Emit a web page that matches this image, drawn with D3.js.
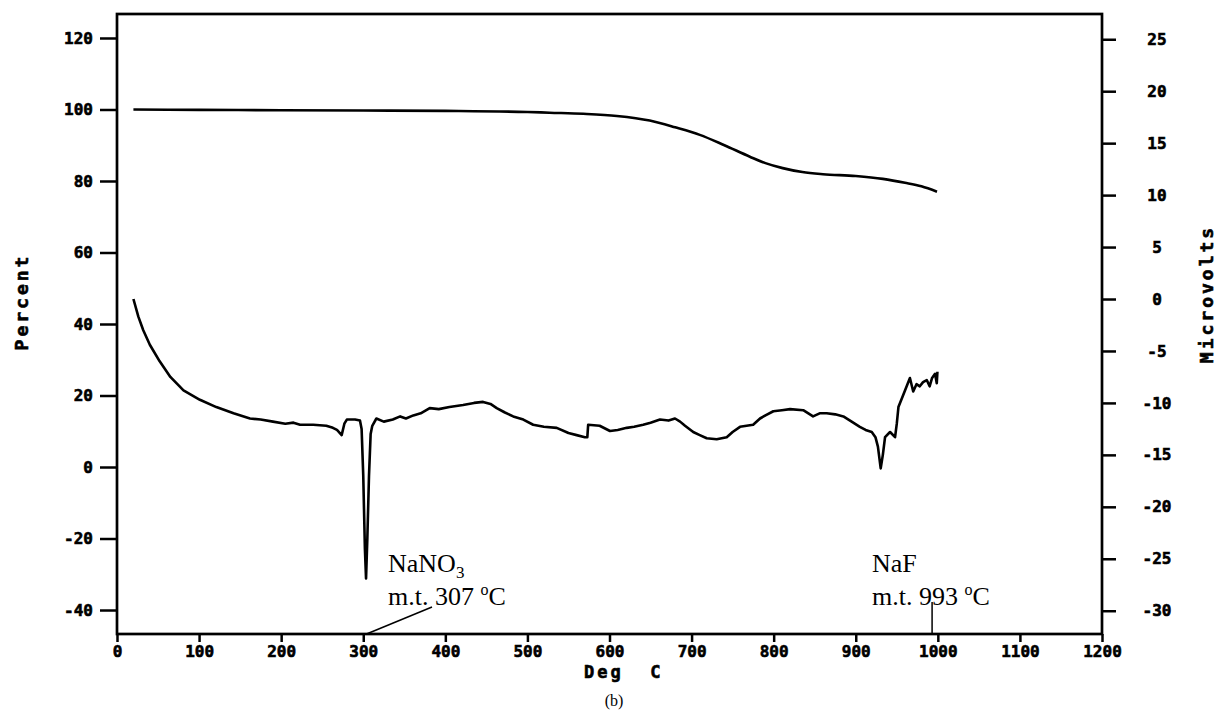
<!DOCTYPE html>
<html>
<head>
<meta charset="utf-8">
<script src="https://cdn.jsdelivr.net/npm/d3@7"></script>
<style>
  html, body { margin: 0; padding: 0; background: #fff; }
  svg { display: block; }
</style>
</head>
<body>
<svg id="chart" width="1218" height="717"></svg>
<script>
// ---------------- DATA ----------------
const xTicks = [0, 100, 200, 300, 400, 500, 600, 700, 800, 900, 1000, 1100, 1200];
const percentTicks = [-40, -20, 0, 20, 40, 60, 80, 100, 120];
const microvoltTicks = [-30, -25, -20, -15, -10, -5, 0, 5, 10, 15, 20, 25];

// TGA curve: temperature (deg C) and weight percent (left axis)
const tgaTemp    = [20, 100, 200, 300, 400, 500, 527, 568, 609, 649, 680, 710, 740, 771, 790, 811, 835, 860, 900, 933, 960, 980, 999];
const tgaPercent = [100, 99.9, 99.8, 99.7, 99.6, 99.3, 99.1, 98.8, 98.2, 96.9, 95.0, 92.9, 90.0, 86.8, 85.0, 83.6, 82.5, 81.9, 81.4, 80.6, 79.5, 78.5, 77.0];

// DTA curve: temperature (deg C) and microvolts (right axis)
const dtaTemp = [20, 26, 32, 40, 52, 65, 81, 101, 121, 142, 162, 175, 190, 205, 215, 223, 239, 255, 263, 268, 273.7, 277, 280, 290, 296,
  298, 300, 302, 303.4, 305, 307, 309, 311, 316, 325, 336, 345, 352, 361, 370, 381, 392, 405, 421.6, 435, 446, 455, 462.6, 472, 482.7, 495, 507, 520,
  535.7, 550, 560, 570, 573, 574, 588, 600.6, 610, 621, 630, 641, 650, 661.5, 672, 679.8, 686, 692, 702, 710, 718.4, 730.6, 742.8, 750, 759, 775,
  783.4, 790, 799.6, 810, 820, 836, 848, 856, 864.6, 875, 884.9, 895, 905, 912, 919.5, 924, 927, 930.4, 933, 935.7, 941.8, 947.9, 950, 952, 956,
  960, 966, 970, 974, 978, 982, 986.5, 990, 993, 996.6, 998.7, 999.5];
const dtaMicrovolts = [0, -1.7, -3.0, -4.4, -6.0, -7.5, -8.8, -9.7, -10.4, -11.0, -11.5, -11.6, -11.8, -12.0, -11.9, -12.1, -12.1, -12.2, -12.4, -12.6, -13.1, -12.0, -11.6, -11.6, -11.7,
  -12.5, -17, -24, -26.9, -23, -17, -13, -12.2, -11.5, -11.8, -11.6, -11.3, -11.5, -11.2, -11.0, -10.5, -10.6, -10.4, -10.2, -10.0, -9.9, -10.1, -10.5, -10.9, -11.3, -11.6, -12.1, -12.3,
  -12.4, -12.9, -13.1, -13.3, -13.3, -12.1, -12.2, -12.7, -12.6, -12.4, -12.3, -12.1, -11.9, -11.6, -11.7, -11.5, -11.8, -12.2, -12.8, -13.1, -13.4, -13.5, -13.3, -12.8, -12.3, -12.1,
  -11.5, -11.2, -10.8, -10.7, -10.6, -10.7, -11.3, -11.0, -11.0, -11.1, -11.3, -11.8, -12.3, -12.6, -12.8, -13.3, -14.2, -16.3, -15.0, -13.3, -12.8, -13.3, -12.0, -10.4, -9.6,
  -8.8, -7.6, -8.9, -8.2, -8.4, -8.0, -7.8, -8.4, -7.6, -7.2, -8.1, -7.0];

// ---------------- LAYOUT ----------------
const svg = d3.select("#chart");
const L = 117, R = 1102, T = 14, B = 634;
const monoFont = "'DejaVu Sans Mono', monospace";
const serifFont = "'Liberation Serif', 'Times New Roman', serif";

const x = d3.scaleLinear().domain([0, 1200]).range([L, R]);
const yL = d3.scaleLinear().domain([-46.71, 126.71]).range([B, T]);
const yR = d3.scaleLinear().domain([-32.24, 27.43]).range([B, T]);

function boldText(sel, size) {
  sel.attr("fill", "#000")
    .attr("stroke", "#000").attr("stroke-width", 0.6)
    .style("font-family", monoFont)
    .style("font-weight", "bold")
    .style("font-size", size + "px");
}

function styleAxis(g) {
  g.select(".domain").remove();
  g.selectAll(".tick line").attr("stroke", "#000").attr("stroke-width", 2.5);
  g.selectAll(".tick text").call(boldText, 16);
}

// X axis
svg.append("g")
  .attr("transform", `translate(0,${B})`)
  .call(d3.axisBottom(x).tickValues(xTicks).tickSize(8).tickPadding(4).tickFormat(d => String(d)))
  .call(styleAxis);

// Left axis
svg.append("g")
  .attr("transform", `translate(${L},0)`)
  .call(d3.axisLeft(yL).tickValues(percentTicks).tickSize(17).tickPadding(7).tickFormat(d => String(d)))
  .call(styleAxis);

// Right axis
const rAx = svg.append("g")
  .attr("transform", `translate(${R},0)`)
  .call(d3.axisRight(yR).tickValues(microvoltTicks).tickSize(14).tickPadding(8).tickFormat(d => String(d)))
  .call(styleAxis);
rAx.selectAll(".tick text").attr("x", 55).attr("text-anchor", "middle");

// Frame
svg.append("rect")
  .attr("x", L).attr("y", T).attr("width", R - L).attr("height", B - T)
  .attr("fill", "none").attr("stroke", "#000").attr("stroke-width", 2.7);

// Curves
const tga = tgaTemp.map((t, i) => [t, tgaPercent[i]]);
const dta = dtaTemp.map((t, i) => [t, dtaMicrovolts[i]]);

svg.append("path")
  .datum(tga)
  .attr("fill", "none").attr("stroke", "#000").attr("stroke-width", 2.6)
  .attr("stroke-linejoin", "round")
  .attr("d", d3.line().x(d => x(d[0])).y(d => yL(d[1])).curve(d3.curveMonotoneX));

svg.append("path")
  .datum(dta)
  .attr("fill", "none").attr("stroke", "#000").attr("stroke-width", 2.6)
  .attr("stroke-linejoin", "round")
  .attr("d", d3.line().x(d => x(d[0])).y(d => yR(d[1])));

// Axis titles
svg.append("text")
  .attr("transform", "translate(28,302) rotate(-90)")
  .attr("text-anchor", "middle")
  .call(boldText, 18)
  .style("letter-spacing", "3px")
  .text("Percent");

svg.append("text")
  .attr("transform", "translate(1213,294) rotate(-90)")
  .attr("text-anchor", "middle")
  .call(boldText, 18)
  .style("letter-spacing", "3px")
  .text("Microvolts");

svg.append("text")
  .attr("x", 584).attr("y", 678)
  .call(boldText, 17)
  .style("letter-spacing", "3px")
  .style("white-space", "pre")
  .text("Deg  C");

// Annotations
function annot(x0, y0, main, sub, temp) {
  const t1 = svg.append("text").attr("x", x0).attr("y", y0)
    .style("font-family", serifFont).style("font-size", "26px").attr("fill", "#000");
  t1.append("tspan").text(main);
  if (sub) t1.append("tspan").attr("dy", 6).style("font-size", "17px").text(sub);
  const t2 = svg.append("text").attr("x", x0).attr("y", y0 + 33)
    .style("font-family", serifFont).style("font-size", "26px").attr("fill", "#000")
    .style("white-space", "pre");
  t2.append("tspan").text("m.t. " + temp + " ");
  t2.append("tspan").attr("dy", -10).style("font-size", "16px").text("o");
  t2.append("tspan").attr("dy", 10).text("C");
}
annot(388, 572, "NaNO", "3", "307");
annot(872, 572, "NaF", null, "993");

// Leader lines
svg.append("line")
  .attr("x1", x(304)).attr("y1", B).attr("x2", 432).attr("y2", 607)
  .attr("stroke", "#000").attr("stroke-width", 1.5);
svg.append("line")
  .attr("x1", x(993)).attr("y1", B).attr("x2", x(993)).attr("y2", 602)
  .attr("stroke", "#000").attr("stroke-width", 1.5);

// Caption
svg.append("text")
  .attr("x", 614).attr("y", 706).attr("text-anchor", "middle")
  .style("font-family", serifFont).style("font-size", "16px")
  .text("(b)");
</script>
</body>
</html>
